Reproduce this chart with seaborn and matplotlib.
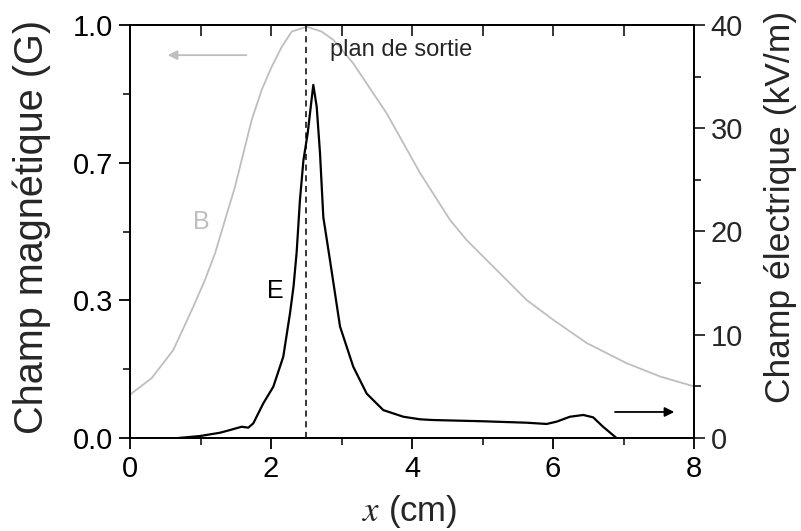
import numpy as np
import pandas as pd
import matplotlib
matplotlib.use("Agg")
import matplotlib.pyplot as plt
import seaborn as sns
from matplotlib.ticker import FixedLocator, MultipleLocator

# ---------------- data ----------------
x_B = [0.0, 0.308, 0.614, 0.898, 1.064, 1.206, 1.348, 1.489, 1.607, 1.726, 1.868,
       2.01, 2.152, 2.294, 2.506, 2.719, 2.884, 3.167, 3.641, 4.113, 4.539, 4.776,
       5.627, 6.004, 6.478, 7.045, 7.518, 8.0]
B_vals = [0.105, 0.145, 0.213, 0.318, 0.383, 0.447, 0.528, 0.608, 0.689, 0.770, 0.843,
          0.899, 0.947, 0.984, 0.996, 0.984, 0.964, 0.907, 0.786, 0.642, 0.528, 0.479,
          0.334, 0.286, 0.230, 0.181, 0.149, 0.125]

x_E = [0.685, 0.993, 1.277, 1.418, 1.584, 1.678, 1.749, 1.891, 2.033, 2.174, 2.27,
       2.32, 2.364, 2.41, 2.46, 2.52, 2.60, 2.648, 2.695, 2.742, 2.837, 2.979, 3.167,
       3.357, 3.593, 3.877, 4.113, 4.30, 5.01, 5.627, 5.91, 6.05, 6.24, 6.43, 6.57,
       6.71, 6.90]
E_vals = [0.0, 0.19, 0.51, 0.77, 1.09, 1.0, 1.42, 3.36, 4.97, 7.87, 12.1,
          14.7, 18.0, 23.0, 26.9, 29.5, 34.2, 32.1, 27.6, 21.4, 17.2, 10.8, 6.9,
          4.3, 2.7, 2.06, 1.81, 1.74, 1.62, 1.48, 1.36, 1.58, 2.06, 2.23, 2.0,
          1.09, 0.0]

x_sortie = 2.5
left_ticks = [0.0, 1/3, 2/3, 1.0]
left_ticklabels = ["0.0", "0.3", "0.7", "1.0"]
right_ticks = [0, 10, 20, 30, 40]
x_ticks = [0, 2, 4, 6, 8]

dfB = pd.DataFrame({"x": x_B, "B": B_vals})
dfE = pd.DataFrame({"x": x_E, "E": E_vals})

# ---------------- style ----------------
sns.set_style("ticks")
plt.rcParams["font.family"] = ["Liberation Sans", "DejaVu Sans"]
plt.rcParams["mathtext.fontset"] = "stix"

GRAY = "#bebebe"

fig = plt.figure(figsize=(8.01, 5.31), dpi=100)
ax = fig.add_axes([130/801, (531-438)/531, (694-130)/801, (438-25)/531])
ax2 = ax.twinx()

sns.lineplot(data=dfB, x="x", y="B", ax=ax, color=GRAY, lw=1.3, sort=False, estimator=None)
sns.lineplot(data=dfE, x="x", y="E", ax=ax2, color="black", lw=1.6, sort=False, estimator=None)

ax.axvline(x_sortie, color="black", lw=1.1, ls=(0, (4, 3)))

ax.set_xlim(0, 8)
ax.set_ylim(0, 1.0)
ax2.set_ylim(0, 40)

ax.xaxis.set_major_locator(FixedLocator(x_ticks))
ax.xaxis.set_minor_locator(MultipleLocator(1))
ax.yaxis.set_major_locator(FixedLocator(left_ticks))
ax.set_yticklabels(left_ticklabels)
ax.yaxis.set_minor_locator(MultipleLocator(1/6))
ax2.yaxis.set_major_locator(FixedLocator(right_ticks))
ax2.yaxis.set_minor_locator(MultipleLocator(5))

for a in (ax, ax2):
    for s in a.spines.values():
        s.set_linewidth(1.3)
        s.set_color("black")
        s.set_visible(True)

ax.tick_params(axis="both", which="major", direction="out", length=8, width=1.3,
               labelsize=21, colors="black", pad=4)
ax.tick_params(axis="both", which="minor", direction="out", length=5, width=1.3)
ax.tick_params(axis="y", right=False)
ax2.tick_params(axis="y", which="major", direction="out", length=8, width=1.3,
                labelsize=21, pad=4)
ax2.tick_params(axis="y", which="minor", direction="out", length=5, width=1.3)

top = ax.secondary_xaxis("top")
top.xaxis.set_major_locator(MultipleLocator(1))
top.tick_params(direction="in", length=8, width=1.3, labeltop=False)
top.spines["top"].set_linewidth(1.3)

ax.set_xlabel(r"$x$ (cm)", fontsize=25, va="center")
ax.xaxis.set_label_coords(0.496, -0.178)
ax.set_ylabel("Champ magnétique (G)", fontsize=28.5, va="center")
ax.yaxis.set_label_coords(-0.174, 0.51)
ax2.set_ylabel("Champ électrique (kV/m)", fontsize=25.5, va="center")
ax2.yaxis.set_label_coords(1.154, 0.559)

ax.text(2.84, 0.939, "plan de sortie", fontsize=17, va="center", ha="left")
ax.text(1.007, 0.523, "B", fontsize=18, color=GRAY, ha="center", va="center")
ax2.text(2.057, 14.2, "E", fontsize=18, color="black", ha="center", va="center")

ax.annotate("", xy=(0.496, 0.927), xytext=(1.69, 0.927),
            arrowprops=dict(arrowstyle="-|>", color=GRAY, lw=1.3, mutation_scale=14))
ax2.annotate("", xy=(7.76, 2.52), xytext=(6.84, 2.52),
             arrowprops=dict(arrowstyle="-|>", color="black", lw=1.3, mutation_scale=14))

fig.savefig("out.png", dpi=100)
